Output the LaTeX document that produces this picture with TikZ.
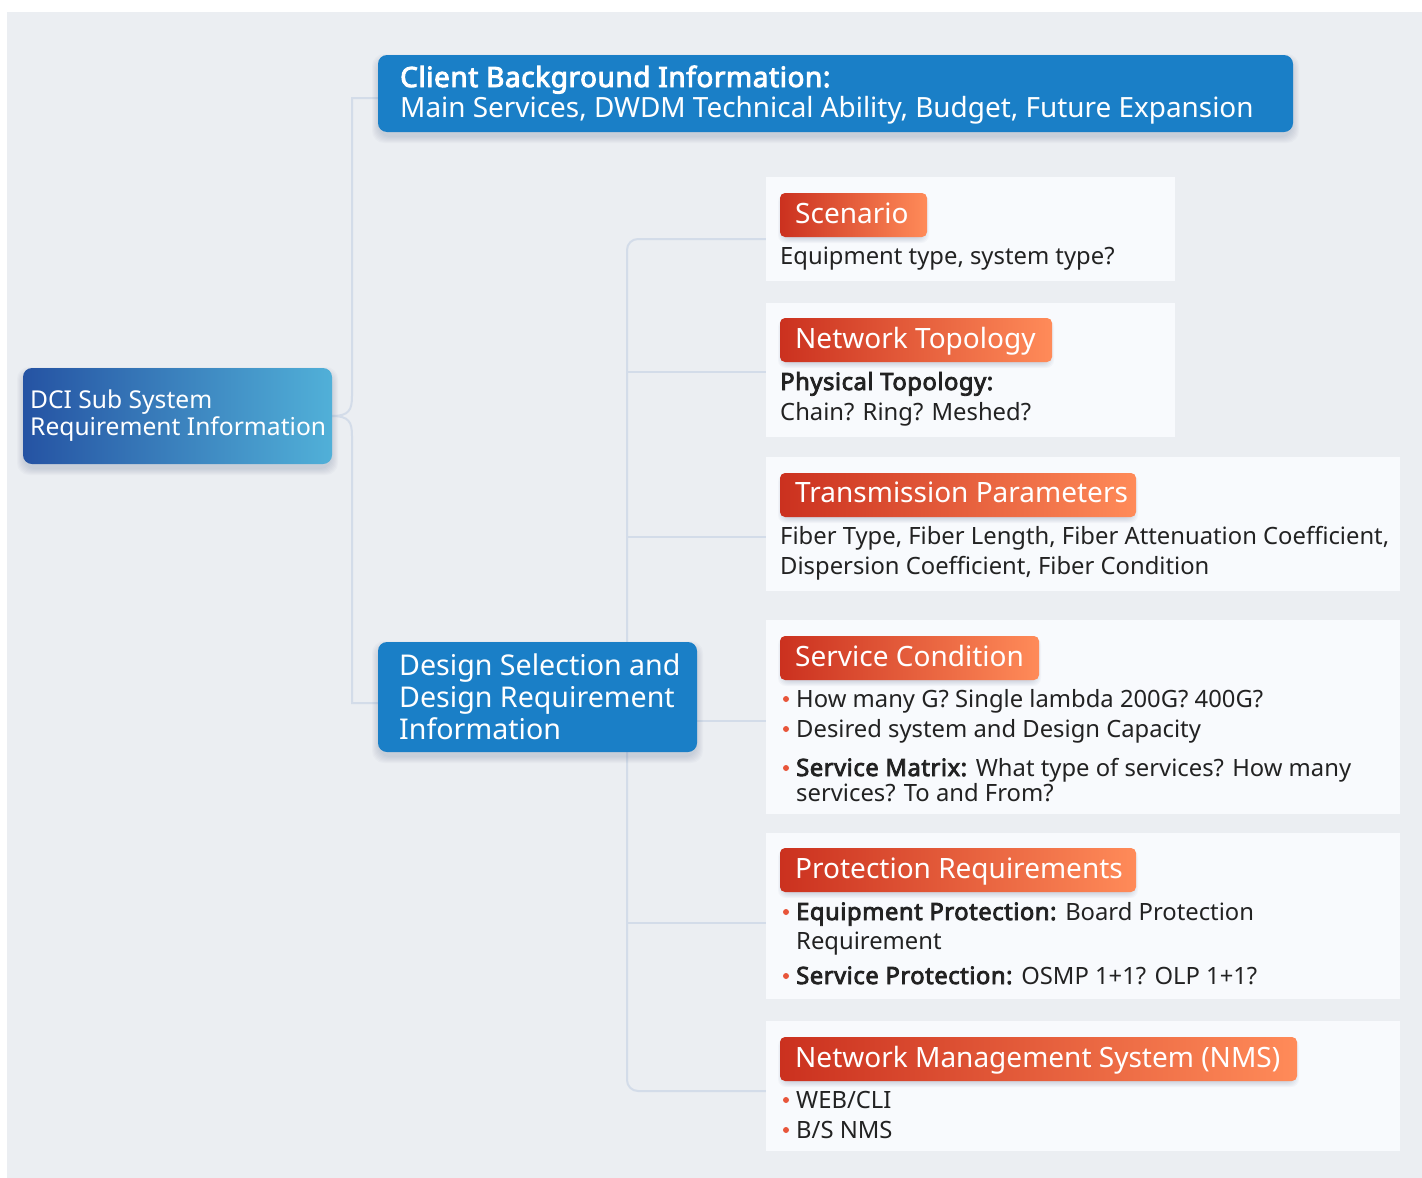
\documentclass[tikz,border=0pt]{standalone}
\usepackage{fontspec}
\setmainfont{Noto Sans}[BoldFont={Noto Sans}, BoldFeatures={FakeBold=3.4, LetterSpace=2.2}]
\usetikzlibrary{calc}
\definecolor{bggrey}{HTML}{EBEEF2}
\definecolor{cardfill}{HTML}{F8FAFD}
\definecolor{linec}{HTML}{D3DCE9}
\definecolor{boxblue}{HTML}{1A7FC7}
\definecolor{rootL}{HTML}{2553A3}
\definecolor{rootR}{HTML}{51B0D8}
\definecolor{badgeL}{HTML}{CB311F}
\definecolor{badgeR}{HTML}{FF8B59}
\definecolor{txt}{HTML}{222222}
\definecolor{dotc}{HTML}{E8553A}
\definecolor{shadc}{HTML}{3A4E78}
\pgfdeclarelayer{back}
\pgfdeclarelayer{lines}
\pgfsetlayers{back,lines,main}
\tikzset{
  conn/.style={draw=linec, line width=2pt},
  box/.style={anchor=north west, inner sep=0pt, outer sep=0pt},
  bluebox/.style={box, fill=boxblue, rounded corners=9pt},
  rootbox/.style={box, left color=rootL, right color=rootR, rounded corners=9pt},
  card/.style={box, fill=cardfill},
  badge/.style={box, left color=badgeL, right color=badgeR, rounded corners=5pt},
  shad/.style={fill=shadc, opacity=0.028, rounded corners=12pt},
  ttl/.style={anchor=base west, inner sep=0pt, text=white, font=\fontsize{28}{34}\selectfont},
  wtxt/.style={anchor=base west, inner sep=0pt, text=white, font=\fontsize{27.9}{32}\selectfont},
  rtxt/.style={anchor=base west, inner sep=0pt, text=white, font=\fontsize{24.6}{28}\selectfont},
  dtxt/.style={anchor=base west, inner sep=0pt, text=white, font=\fontsize{28.6}{32}\selectfont},
  bdy/.style={anchor=base west, inner sep=0pt, text=txt, font=\fontsize{23.8}{30}\selectfont},
}
\newcommand{\bdot}[1]{\fill[dotc] #1 circle (3pt);}
% soft shadow: x1 y1 x2 y2 yoffset
\newcommand{\softshad}[5]{%
  \foreach \k in {1,...,7}{%
    \fill[shad] ({#1-\k+1},{#2-\k+1+#5}) rectangle ({#3+\k-1},{#4+\k-1+#5});}}
\begin{document}
\begin{tikzpicture}[x=1pt,y=-1pt]
\useasboundingbox (0,0) rectangle (1422,1178);
\begin{pgfonlayer}{back}
\fill[white] (0,0) rectangle (1422,1178);
\fill[bggrey] (7,12) rectangle (1422,1178);
\end{pgfonlayer}

% main boxes
\softshad{378}{55}{1293}{132}{5}
\node[bluebox, minimum width=915pt, minimum height=77pt] (client) at (378,55) {};
\node[wtxt, font=\fontsize{27.9}{32}\selectfont\bfseries] (clientA) at (400,87) {Client Background Information:};
\node[wtxt] (clientB) at (400,117) {Main Services, DWDM Technical Ability, Budget, Future Expansion};

\softshad{23}{368}{332}{464}{5}
\node[rootbox, minimum width=309pt, minimum height=96pt] (root) at (23,368) {};
\node[rtxt] (rootA) at (30,408) {DCI Sub System};
\node[rtxt] (rootB) at (30,435) {Requirement Information};

\softshad{378}{642}{697}{752}{5}
\node[bluebox, minimum width=319pt, minimum height=110pt] (design) at (378,642) {};
\node[dtxt] (desA) at (399,675) {Design Selection and};
\node[dtxt] (desB) at (399,707) {Design Requirement};
\node[dtxt] (desC) at (399,739) {Information};

% cards
\node[card, minimum width=409pt, minimum height=104pt] (c1) at (766,177) {};
\node[card, minimum width=409pt, minimum height=134pt] (c2) at (766,303) {};
\node[card, minimum width=634pt, minimum height=134pt] (c3) at (766,457) {};
\node[card, minimum width=634pt, minimum height=194pt] (c4) at (766,620) {};
\node[card, minimum width=634pt, minimum height=166pt] (c5) at (766,833) {};
\node[card, minimum width=634pt, minimum height=130pt] (c6) at (766,1021) {};

% badges
\begin{scope}[shad/.append style={opacity=0.035, rounded corners=8pt}]
\softshad{784}{196}{923}{233}{4}
\softshad{784}{321}{1048}{358}{4}
\softshad{784}{476}{1132}{513}{4}
\softshad{784}{639}{1035}{676}{4}
\softshad{784}{851}{1132}{888}{4}
\softshad{784}{1040}{1293}{1077}{4}
\end{scope}
\node[badge, minimum width=147pt, minimum height=44pt] (b1) at (780,193) {};
\node[ttl] (b1t) at (795,223) {Scenario};
\node[badge, minimum width=272pt, minimum height=44pt] (b2) at (780,318) {};
\node[ttl] (b2t) at (795,348) {Network Topology};
\node[badge, minimum width=356pt, minimum height=44pt] (b3) at (780,473) {};
\node[ttl] (b3t) at (795,502) {Transmission Parameters};
\node[badge, minimum width=259pt, minimum height=44pt] (b4) at (780,636) {};
\node[ttl] (b4t) at (795,666) {Service Condition};
\node[badge, minimum width=356pt, minimum height=44pt] (b5) at (780,848) {};
\node[ttl] (b5t) at (795,878) {Protection Requirements};
\node[badge, minimum width=517pt, minimum height=44pt] (b6) at (780,1037) {};
\node[ttl] (b6t) at (795,1067) {Network Management System (NMS)};

% body texts
\node[bdy] (s1) at (780,264) {Equipment type, system type?};
\node[bdy, font=\fontsize{23.8}{30}\selectfont\bfseries] (s2a) at (780,390) {Physical Topology:};
\node[bdy] (s2b) at (780,420) {Chain? Ring? Meshed?};
\node[bdy] (s3a) at (780,544) {Fiber Type, Fiber Length, Fiber Attenuation Coefficient,};
\node[bdy] (s3b) at (780,574) {Dispersion Coefficient, Fiber Condition};

\node[bdy] (s4a) at (796,707) {How many G? Single lambda 200G? 400G?};
\node[bdy] (s4b) at (796,737) {Desired system and Design Capacity};
\node[bdy] (s4c) at (796,776) {\textbf{Service Matrix:} What type of services? How many};
\node[bdy] (s4d) at (796,801) {services? To and From?};
\bdot{(786,699)} \bdot{(786,729)} \bdot{(786,768)}

\node[bdy] (s5a) at (796,920) {\textbf{Equipment Protection:} Board Protection};
\node[bdy] (s5b) at (796,949) {Requirement};
\node[bdy] (s5c) at (796,984) {\textbf{Service Protection:} OSMP 1+1? OLP 1+1?};
\bdot{(786,912)} \bdot{(786,976)}

\node[bdy] (s6a) at (796,1108) {WEB/CLI};
\node[bdy] (s6b) at (796,1138) {B/S NMS};
\bdot{(786,1100)} \bdot{(786,1130)}

% connectors
\coordinate (ja) at (352,98);
\coordinate (jb) at (352,703);
\coordinate (t1) at (627,239);
\coordinate (t2) at (627,372);
\coordinate (t3) at (627,537);
\coordinate (t4) at (627,721);
\coordinate (t5) at (627,923);
\coordinate (t6) at (627,1091);
\begin{pgfonlayer}{lines}
\draw[conn] (root.east) .. controls (349,416) and (352,410) .. (352,396) -- (ja) -- (client.west |- ja);
\draw[conn] (root.east) .. controls (349,416) and (352,422) .. (352,436) -- (jb) -- (design.west |- jb);
\draw[conn, rounded corners=11pt] (c1.west |- t1) -- (t1) -- (t6) -- (c6.west |- t6);
\draw[conn] (t2) -- (c2.west |- t2);
\draw[conn] (t3) -- (c3.west |- t3);
\draw[conn] (design.east |- t4) -- (c4.west |- t4);
\draw[conn] (t5) -- (c5.west |- t5);
\end{pgfonlayer}
\end{tikzpicture}
\end{document}
